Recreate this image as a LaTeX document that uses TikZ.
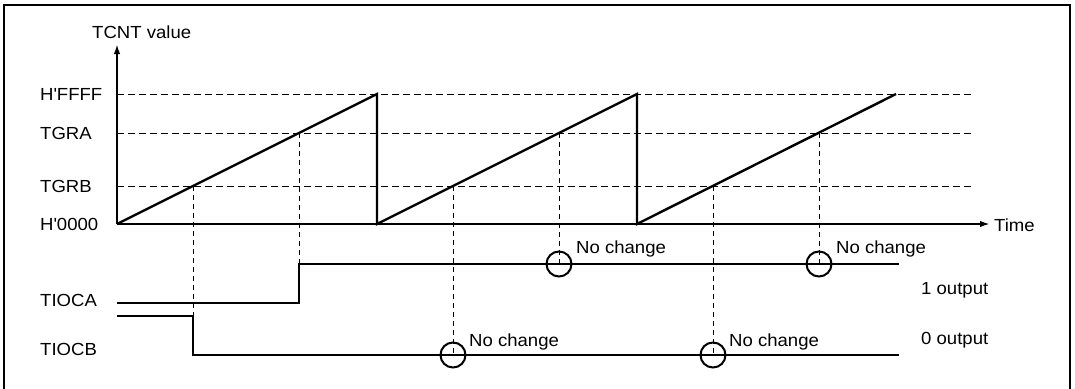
\documentclass[tikz,border=0pt]{standalone}
\usepackage{fontspec}
\setmainfont{Liberation Sans}[FakeStretch=1.06]
\usetikzlibrary{arrows.meta}
\begin{document}
\begin{tikzpicture}[x=1pt,y=-1pt,
  lbl/.style={anchor=base west,inner sep=0pt,font=\fontsize{17.5}{20}\selectfont},
  thick line/.style={line width=2.4pt},
  axis/.style={line width=2pt,-{Latex[length=10pt,width=6.5pt]}},
  hdash/.style={line width=0.9pt,dash pattern=on 6.5pt off 4.5pt},
  vdash/.style={line width=1pt,dash pattern=on 5pt off 4pt},
  marker/.style={circle,draw,line width=2pt,minimum size=25pt,inner sep=0pt}]
\useasboundingbox (0,0) rectangle (1075,388);
% frame
\draw[line width=2pt] (4,390) |- (1069.5,4.5) -- (1069.5,390);
% key coordinates
\coordinate (O) at (117,224);
\coordinate (Ytop) at (117,44);
\coordinate (Tend) at (990,224);
% dashed levels
\coordinate (F0) at (117,94);  \coordinate (F1) at (972,94);
\coordinate (A0) at (117,133); \coordinate (A1) at (972,133);
\coordinate (B0) at (117,186); \coordinate (B1) at (972,186);
\draw[hdash] (F0) -- (F1);
\draw[hdash] (A0) -- (A1);
\draw[hdash] (B0) -- (B1);
% axes
\draw[axis] (O) -- (Ytop);
\draw[axis] (O) -- (Tend);
% ramps
\coordinate (P1) at (377,94); \coordinate (Q1) at (377,224);
\coordinate (P2) at (637,94); \coordinate (Q2) at (637,224);
\coordinate (P3) at (896,94);
\draw[thick line] (O) -- (P1) -- (Q1) -- (P2) -- (Q2) -- (P3);
% crossing points
\coordinate (b1) at (193,186); \coordinate (a1) at (299,133);
\coordinate (b2) at (453,186); \coordinate (a2) at (559,133);
\coordinate (b3) at (713,186); \coordinate (a3) at (819,133);
% output waveforms
\coordinate (Astart) at (117,303); \coordinate (Alow) at (299,303);
\coordinate (Ahigh) at (299,264); \coordinate (Aend) at (899,264);
\coordinate (Bstart) at (117,316); \coordinate (Bhigh) at (193,316);
\coordinate (Blow) at (193,355); \coordinate (Bend) at (899,355);
\draw[thick line] (Astart) -- (Alow) -- (Ahigh) -- (Aend);
\draw[thick line] (Bstart) -- (Bhigh) -- (Blow) -- (Bend);
% no-change markers
\node[marker] (ca2) at (559,264) {};
\node[marker] (ca3) at (819,264) {};
\node[marker] (cb2) at (453,355) {};
\node[marker] (cb3) at (713,355) {};
% vertical dashed
\draw[vdash] (b1) -- (Bhigh);
\draw[vdash] (a1) -- (Ahigh);
\draw[vdash] (b2) -- (cb2.center);
\draw[vdash] (a2) -- (ca2.center);
\draw[vdash] (b3) -- (cb3.center);
\draw[vdash] (a3) -- (ca3.center);
% labels
\node[lbl] (tcnt) at (92,38) {TCNT value};
\node[lbl] (lf) at (40,100) {H\textquotesingle FFFF};
\node[lbl] (la) at (40,139) {TGRA};
\node[lbl] (lb) at (40,192) {TGRB};
\node[lbl] (l0) at (40,230) {H\textquotesingle 0000};
\node[lbl] (tioca) at (40,306) {TIOCA};
\node[lbl] (tiocb) at (40,355) {TIOCB};
\node[lbl] (time) at (994,231) {Time};
\node[lbl] (o1) at (921,294) {1 output};
\node[lbl] (o0) at (921,344) {0 output};
\node[lbl] (nca2) at (576,253) {No change};
\node[lbl] (nca3) at (836,253) {No change};
\node[lbl] (ncb2) at (469,346) {No change};
\node[lbl] (ncb3) at (729,346) {No change};
\end{tikzpicture}
\end{document}
